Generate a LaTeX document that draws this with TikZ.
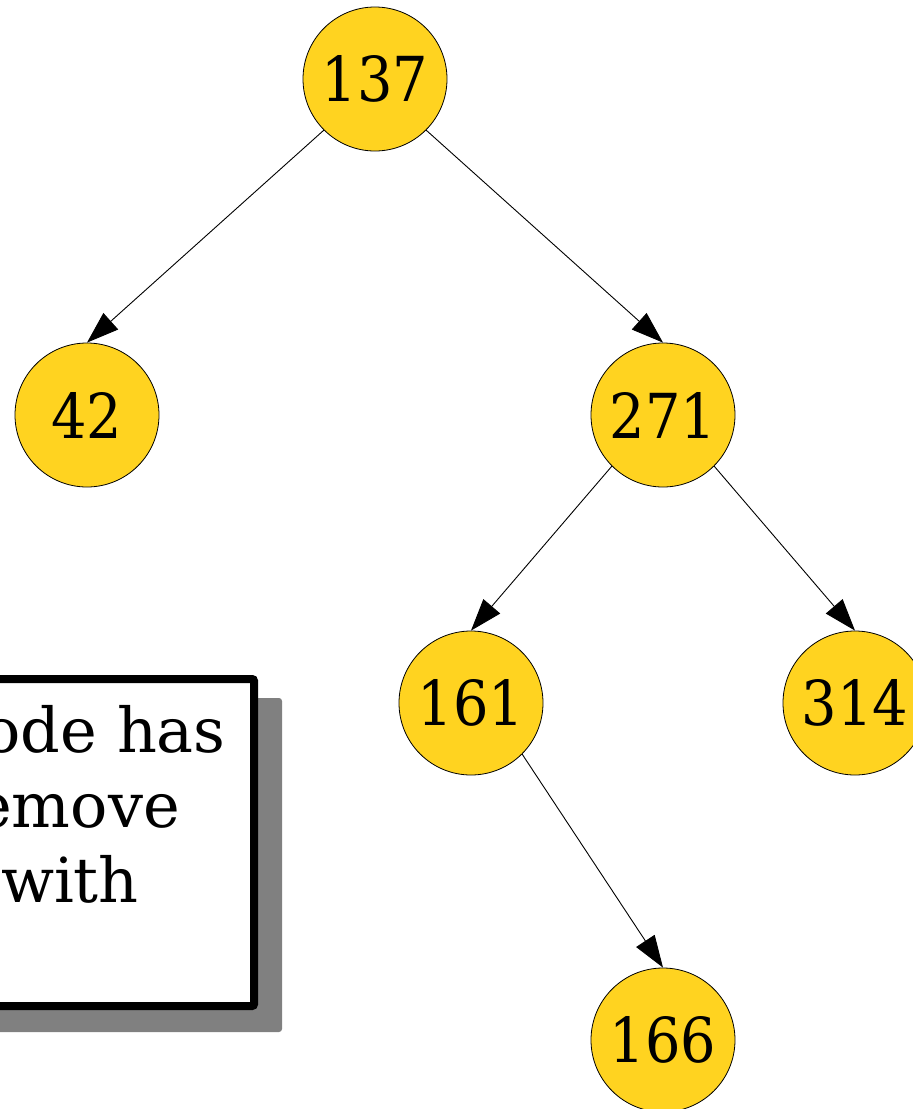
\documentclass[tikz,border=0pt]{standalone}
\usepackage{fontspec}
\setmainfont{DejaVu Serif}
\newfontfamily\digitfont[FakeStretch=0.9]{DejaVu Serif}
\usetikzlibrary{arrows.meta}
\definecolor{nodeyellow}{RGB}{255,211,32}
\definecolor{shadowgray}{RGB}{128,128,128}
\tikzset{
  treenode/.style={circle, draw=black, line width=0.8pt, fill=nodeyellow, minimum size=144pt, inner sep=0pt, font=\digitfont\fontsize{62}{62}\selectfont},
  edge/.style={line width=0.9pt, -{Triangle[length=32pt,width=22pt]}},
  boxtext/.style={inner sep=0pt, anchor=base east, font=\fontsize{62}{75}\selectfont}
}
\begin{document}
\begin{tikzpicture}[x=1pt,y=-1pt]
\useasboundingbox (0,0) rectangle (913,1109);
\clip (0,0) rectangle (913,1109);
% note box with shadow
\fill[shadowgray, rounded corners=3pt] (-80,698) rectangle (282,1032);
\draw[line width=8pt, fill=white, rounded corners=2pt] (-80,679) rectangle (254,1006);
\node[boxtext] (t1) at (226,752) {ode has};
\node[boxtext] (t2) at (180,827) {emove};
\node[boxtext] (t3) at (139,902) {with};
% tree nodes
\node[treenode] (n137) at (375,79) {137};
\node[treenode] (n42) at (87,415) {42};
\node[treenode] (n271) at (663,415) {271};
\node[treenode] (n161) at (471,703) {161};
\node[treenode] (n314) at (855,703) {314};
\node[treenode] (n166) at (663,1040) {166};
% edges
\draw[edge] (n137.south west) -- (n42.north);
\draw[edge] (n137.south east) -- (n271.north);
\draw[edge] (n271.south west) -- (n161.north);
\draw[edge] (n271.south east) -- (n314.north);
\draw[edge] (n161.south east) -- (n166.north);
\end{tikzpicture}
\end{document}
